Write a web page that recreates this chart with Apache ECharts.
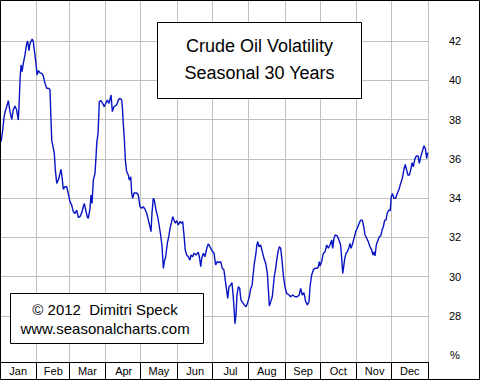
<!DOCTYPE html>
<html>
<head>
<meta charset="utf-8">
<script src="https://cdn.jsdelivr.net/npm/echarts@6/dist/echarts.min.js"></script>
<style>
html,body{margin:0;padding:0;background:#fff;}
#chart{width:480px;height:380px;}
</style>
</head>
<body>
<div id="chart"></div>
<script>
// ---- data ----
const months = ['Jan','Feb','Mar','Apr','May','Jun','Jul','Aug','Sep','Oct','Nov','Dec'];
const monthDays = [31,28,31,30,31,30,31,31,30,31,30,31];
const titleLines = ['Crude Oil Volatility', 'Seasonal 30 Years'];
const creditLines = ['\u00a9 2012  Dimitri Speck', 'www.seasonalcharts.com'];
const yUnit = '%';
const yAxisMin = 26, yAxisMax = 44, yAxisStep = 2;

// day of year (0..365) of each reading
const dayOfYear = [
0.9,2.3,3.4,4.3,5.7,7.1,8.5,10.0,11.3,12.8,14.2,15.6,16.2,17.1,17.9,18.8,19.9,21.3,22.8,23.6,
24.7,25.6,26.4,27.5,28.4,29.6,30.7,31.6,32.7,34.1,35.6,36.9,38.4,39.8,41.2,42.6,43.2,44.1,45.5,46.3,
47.2,48.4,49.7,51.2,52.0,52.9,54.0,55.4,56.9,58.2,59.7,61.1,62.5,64.0,65.4,66.8,68.2,69.7,71.0,71.9,
73.1,74.4,75.3,76.8,77.6,78.5,79.6,81.0,81.9,82.5,83.6,84.2,84.7,86.1,87.6,88.9,90.4,91.5,93.0,94.7,
95.8,97.2,99.5,100.9,102.3,103.8,104.6,105.1,106.0,106.9,108.0,109.4,110.3,111.5,112.3,113.2,114.3,116.6,117.9,119.4,
120.8,122.2,123.7,125.1,126.5,127.9,128.8,129.6,130.7,131.6,133.0,134.5,135.9,137.0,138.2,139.3,140.1,141.3,142.7,143.9,
145.0,146.4,147.3,148.4,149.5,150.7,152.1,153.5,155.0,155.8,156.9,158.0,159.2,160.6,162.0,162.9,164.3,165.4,167.1,169.1,
170.0,171.2,172.0,173.4,174.8,176.3,177.6,179.1,180.5,182.5,183.9,185.3,186.8,188.2,189.6,191.0,192.1,193.3,194.2,195.3,
196.7,197.8,198.7,199.6,200.4,201.3,202.1,203.2,204.4,205.5,207.0,208.3,209.8,211.2,212.6,213.8,214.9,216.0,216.9,218.1,
218.9,219.8,220.9,222.3,223.7,225.1,226.6,228.0,228.8,229.7,230.9,232.2,233.1,233.9,235.1,236.0,237.1,238.2,239.4,240.5,
241.6,243.0,244.5,246.5,247.9,249.6,251.6,253.5,255.2,256.4,257.8,259.2,260.7,262.1,263.5,264.4,265.8,267.2,268.6,270.1,
271.4,272.3,272.9,274.3,275.7,277.2,278.6,280.0,281.4,282.9,283.7,284.8,285.9,287.6,289.1,290.5,291.4,292.3,293.1,294.0,
295.1,296.2,297.4,298.5,299.3,300.4,301.9,303.3,304.7,306.2,307.6,309.0,310.2,311.3,312.7,314.1,315.5,317.0,318.1,319.2,
319.8,320.9,322.4,323.5,324.7,325.8,326.9,328.1,329.2,330.3,331.7,332.8,333.7,334.6,336.0,337.4,338.8,340.3,341.7,343.1,
344.5,345.6,346.8,347.9,349.1,350.2,351.4,352.5,353.7,355.0,356.5,357.6,358.8,360.1,361.6,362.7,363.9,364.7
];
// seasonal volatility (%)
const volatility = [
36.88,37.47,38.09,38.39,38.66,38.97,38.41,38.02,38.49,38.70,38.49,37.98,38.66,40.06,40.79,40.45,40.87,41.30,41.89,42.01,
41.52,41.89,41.98,42.11,41.98,41.38,40.87,40.28,40.50,40.39,40.36,40.23,39.85,39.60,39.60,39.55,38.49,36.96,36.54,36.28,
35.43,34.75,34.92,35.26,35.47,35.09,34.45,34.58,34.58,34.24,33.82,33.65,33.31,33.22,33.39,33.02,33.05,33.25,33.56,33.73,
33.39,33.05,32.97,33.48,34.16,33.73,34.92,35.26,36.11,36.79,37.30,38.15,38.92,38.97,38.83,38.66,38.86,39.00,38.83,39.26,
38.41,38.66,38.75,39.00,39.09,39.00,38.41,37.81,37.05,35.94,35.35,35.18,34.92,35.09,34.26,33.99,34.26,34.26,34.16,33.56,
33.48,33.56,33.43,33.23,32.88,32.54,32.29,33.23,33.99,33.90,33.39,33.05,32.54,32.12,31.52,30.42,30.76,31.01,31.70,32.03,
32.46,32.80,33.05,32.88,32.72,32.85,32.63,32.80,32.72,32.80,32.12,31.35,31.10,31.01,30.84,31.10,31.01,31.19,31.10,31.24,
31.01,30.50,30.93,31.19,31.01,31.44,31.66,31.52,31.35,31.19,30.59,30.76,30.71,30.76,30.42,30.33,29.82,29.31,28.89,29.48,
29.57,29.69,29.14,28.38,27.59,28.08,29.06,29.48,29.40,28.80,28.67,28.55,28.46,28.67,28.97,29.40,29.52,30.16,30.67,31.10,
31.56,31.78,31.52,31.61,31.27,30.93,30.67,30.16,29.40,28.50,28.72,28.97,29.52,29.99,30.42,30.84,31.27,31.52,31.44,30.84,
30.08,29.48,29.14,29.06,28.97,29.06,28.97,28.97,29.06,29.40,29.06,29.18,28.72,28.55,28.72,29.48,30.08,30.33,30.42,30.42,
30.47,30.76,30.54,30.76,31.18,31.27,31.61,31.44,31.61,31.86,31.44,31.95,32.12,32.07,31.86,31.61,30.93,30.16,30.50,30.93,
31.18,31.27,31.44,31.69,31.44,31.61,31.95,32.29,32.46,32.71,32.88,32.88,32.54,32.12,31.95,31.78,31.52,31.35,31.10,31.27,
31.05,31.61,31.86,32.03,32.07,32.37,32.54,32.88,32.88,33.25,33.39,33.36,34.07,34.24,33.99,33.99,34.24,34.45,34.75,35.01,
35.47,35.72,35.43,35.18,35.18,35.43,35.80,35.60,35.98,36.15,36.15,35.77,36.11,36.37,36.67,36.54,36.03,36.32
];

// ---- derived helpers ----
const totalDays = monthDays.reduce((a, b) => a + b, 0);
const monthStart = new Set();
const monthMid = new Map();
let acc = 0;
monthDays.forEach((n, i) => {
  monthStart.add(acc);
  monthMid.set(acc + Math.floor(n / 2), months[i]);
  acc += n;
});
const dayCategories = Array.from({length: totalDays}, (_, i) => monthMid.get(i) || '');
const seriesData = dayOfYear.map((d, i) => [d, volatility[i]]);

const chart = echarts.init(document.getElementById('chart'), null, {renderer: 'svg'});
const FONT = '"Liberation Sans", Arial, sans-serif';
const gridColor = '#c0c0c0';

chart.setOption({
  animation: false,
  backgroundColor: '#fff',
  grid: [
    {left: 0, right: 52, top: 2, bottom: 25},
    {left: 0, right: 52, top: 0, bottom: 18}
  ],
  xAxis: [
    {
      gridIndex: 1,
      type: 'category',
      data: dayCategories,
      boundaryGap: true,
      axisLine: {show: true, lineStyle: {color: '#000', width: 1}},
      axisTick: {show: true, length: 17, interval: (idx) => monthStart.has(idx), lineStyle: {color: '#000', width: 1}},
      axisLabel: {show: true, interval: (idx) => monthMid.has(idx), color: '#000', fontSize: 11, fontFamily: FONT, margin: 3},
      splitLine: {show: true, interval: (idx) => monthStart.has(idx), lineStyle: {color: gridColor, width: 1}}
    },
    {
      gridIndex: 0,
      type: 'value',
      min: 0,
      max: totalDays,
      show: false
    }
  ],
  yAxis: [
    {
      gridIndex: 0,
      type: 'value',
      position: 'right',
      min: yAxisMin,
      max: yAxisMax,
      interval: yAxisStep,
      axisLine: {show: false},
      axisTick: {show: false},
      axisLabel: {
        color: '#000', fontSize: 11, fontFamily: FONT, margin: 27, align: 'center',
        formatter: (v) => v === yAxisMin ? yUnit : (v === yAxisMax ? '' : String(v))
      },
      splitLine: {show: true, showMinLine: false, showMaxLine: false, lineStyle: {color: gridColor, width: 1}}
    },
    {
      gridIndex: 1,
      type: 'value',
      position: 'right',
      min: 0, max: 1,
      axisLine: {show: true, lineStyle: {color: gridColor, width: 1}},
      axisTick: {show: false},
      axisLabel: {show: false},
      splitLine: {show: false}
    }
  ],
  series: [
    {
      type: 'line',
      xAxisIndex: 1,
      yAxisIndex: 0,
      data: seriesData,
      showSymbol: false,
      symbol: 'none',
      lineStyle: {color: '#0814c4', width: 1.4},
      z: 3
    }
  ],
  graphic: [
    {
      type: 'rect', z: 100, silent: true,
      shape: {x: 157.5, y: 22.5, width: 204, height: 76},
      style: {fill: '#fff', stroke: '#000', lineWidth: 1}
    },
    {
      type: 'text', z: 101, silent: true, x: 259.5, y: 46,
      style: {text: titleLines[0], font: '18px ' + FONT, fill: '#000', align: 'center', verticalAlign: 'middle'}
    },
    {
      type: 'text', z: 101, silent: true, x: 259.5, y: 73,
      style: {text: titleLines[1], font: '18px ' + FONT, fill: '#000', align: 'center', verticalAlign: 'middle'}
    },
    {
      type: 'rect', z: 100, silent: true,
      shape: {x: 10.5, y: 293.5, width: 193, height: 50},
      style: {fill: '#fff', stroke: '#000', lineWidth: 1}
    },
    {
      type: 'text', z: 101, silent: true, x: 105, y: 309.5,
      style: {text: creditLines[0], font: '15px ' + FONT, fill: '#000', align: 'center', verticalAlign: 'middle'}
    },
    {
      type: 'text', z: 101, silent: true, x: 105, y: 328,
      style: {text: creditLines[1], font: '15px ' + FONT, fill: '#000', align: 'center', verticalAlign: 'middle'}
    },
    {
      type: 'rect', z: 102, silent: true,
      shape: {x: 0.5, y: 0.5, width: 479, height: 379},
      style: {fill: 'none', stroke: '#000', lineWidth: 1}
    }
  ]
});
</script>
</body>
</html>
